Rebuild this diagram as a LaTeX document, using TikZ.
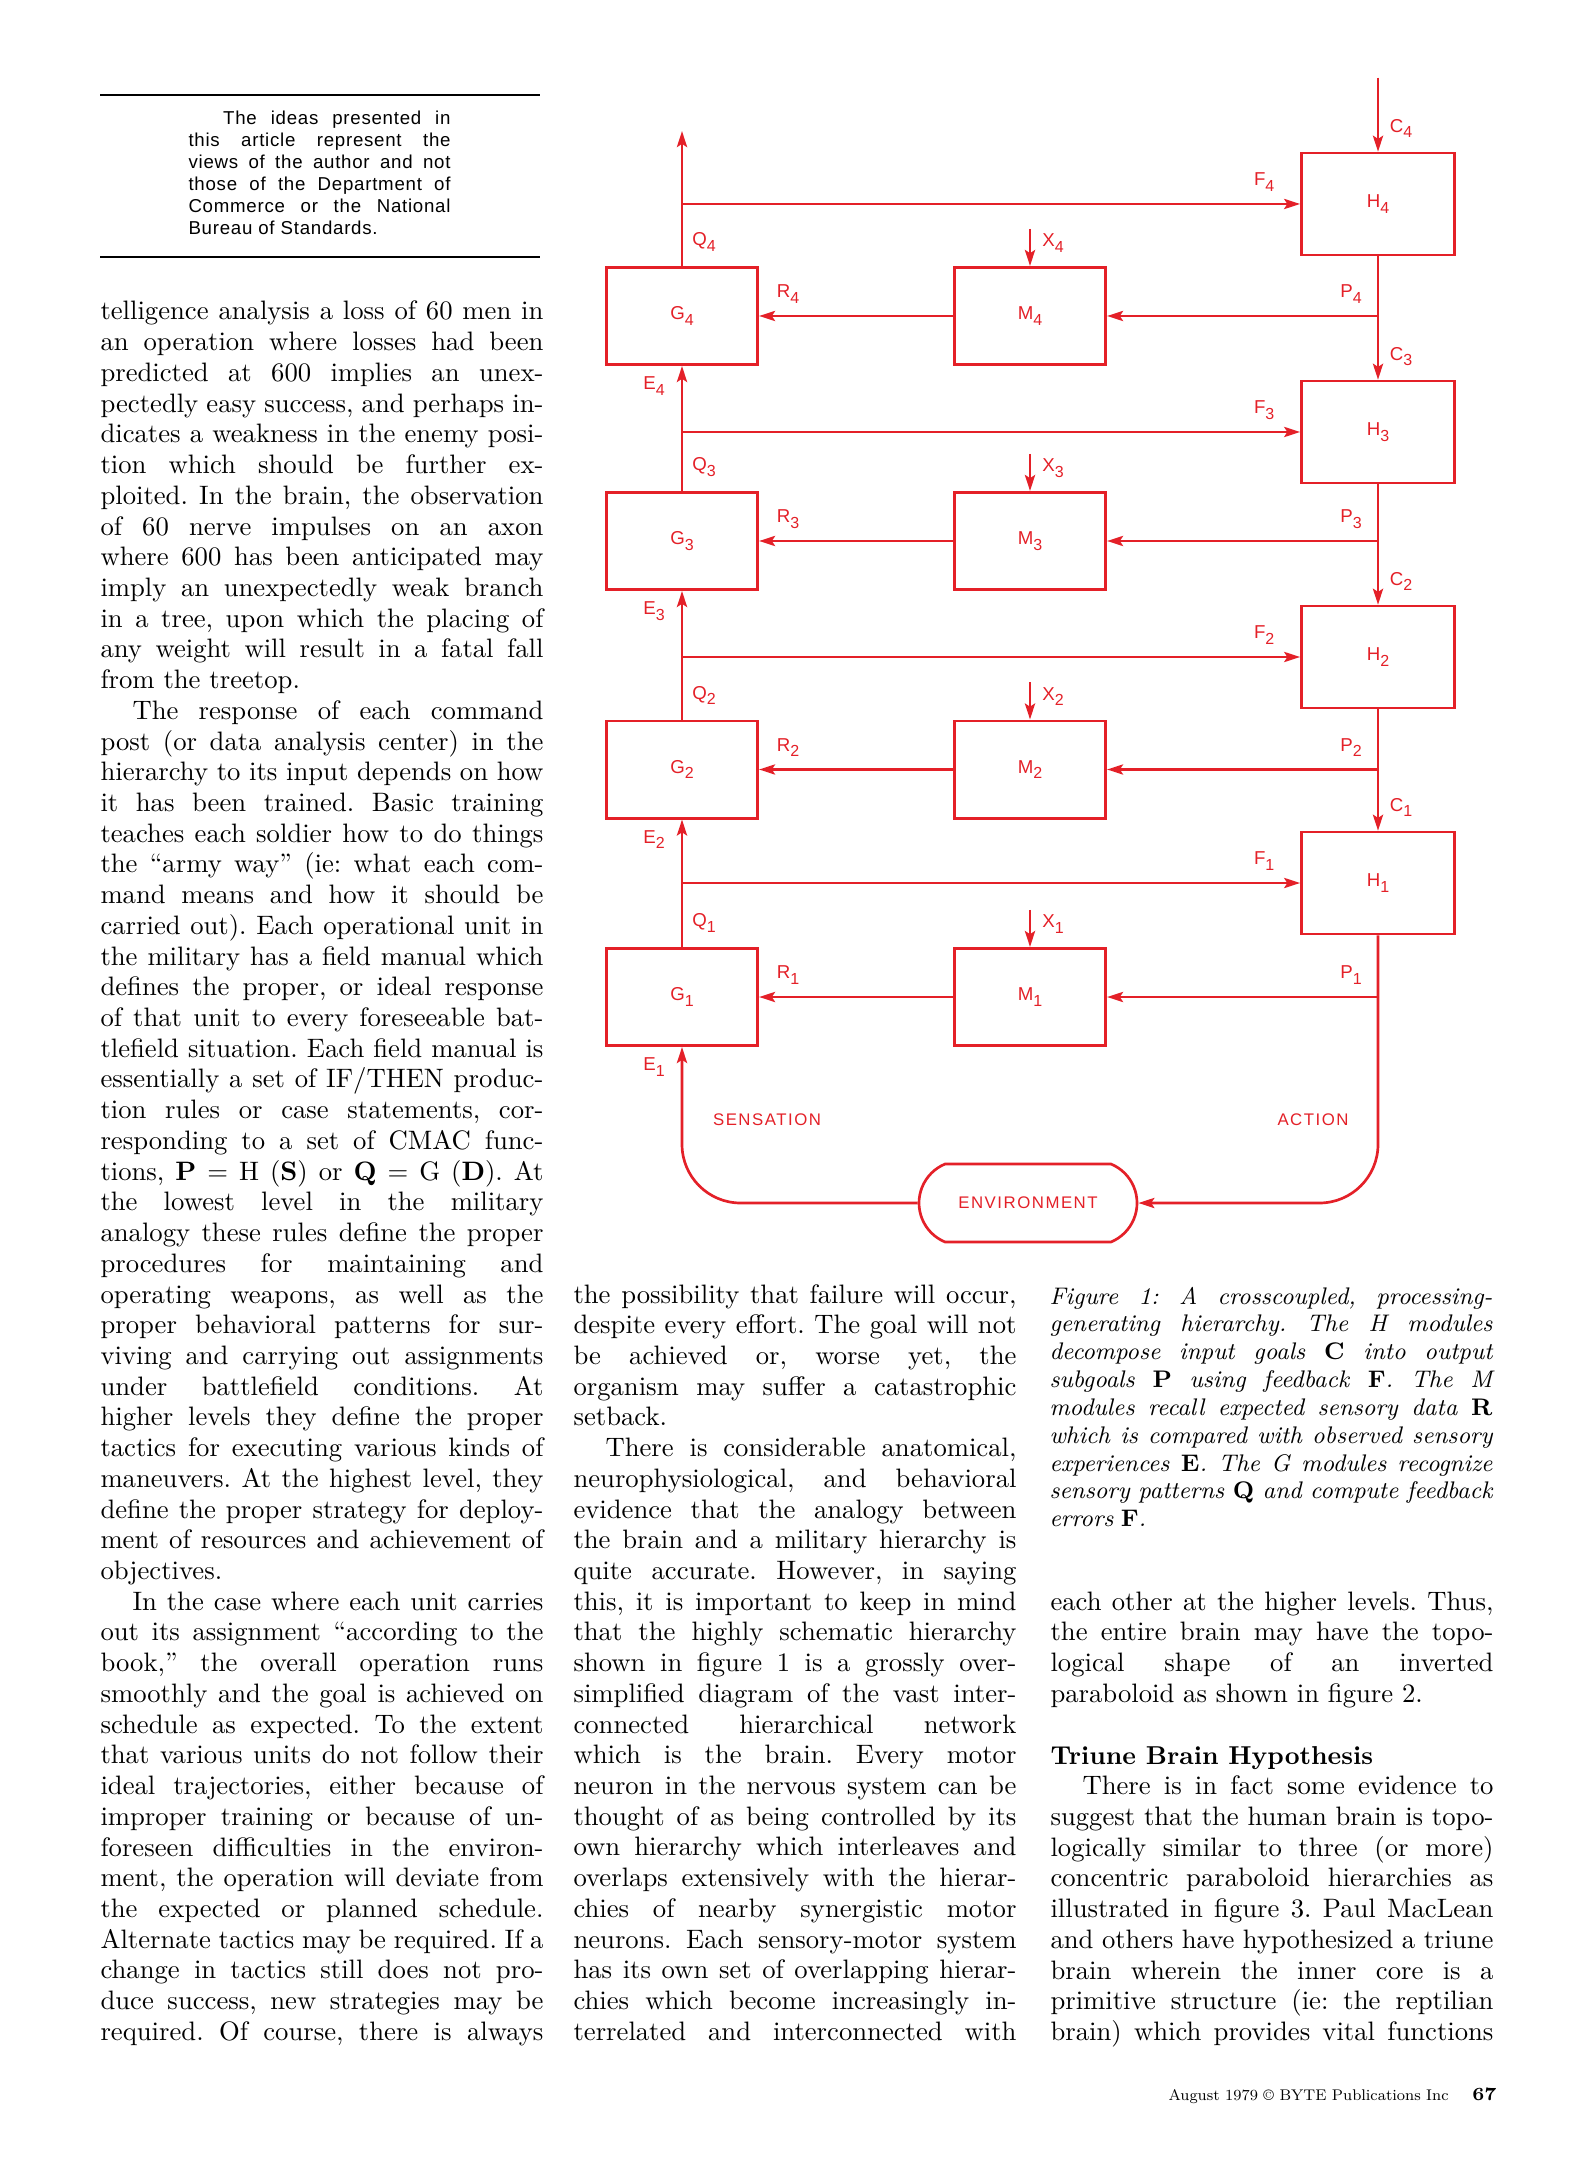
\documentclass[tikz,border=0pt]{standalone}
\usepackage{fontspec}
\usepackage{xcolor}
\usepackage{graphicx}
\usetikzlibrary{arrows.meta, positioning, shapes.misc}
\newfontfamily\diagfont{Liberation Sans}
\newfontfamily\spacedfont{Liberation Sans}[LetterSpace=9]
\newfontfamily\notefont{Liberation Sans}[LetterSpace=4]
\definecolor{diagred}{RGB}{228,32,40}
\newlength\colw
\setlength\colw{166.1pt}
\newcommand\jline[1]{\hbox to \colw{#1}}
\newcommand\iline[1]{\hbox to \colw{\hskip 12pt\relax #1}}
\newcommand\eline[1]{\hbox{#1}}
\newcommand\B[1]{\textup{\textbf{#1}}}
\newcommand\modlab[2]{#1\raisebox{-0.55ex}{\fontsize{6}{6}\selectfont #2}}
\newcommand\bodyfont{\fontsize{10}{11.52}\selectfont\frenchspacing\spaceskip=.333em plus .4em minus .17em\relax}
\tikzset{
    myarrow/.style={draw=diagred, line width=1pt, -{Stealth[length=6pt, width=3.8pt, inset=1.2pt]}},
    box/.style={draw=diagred, line width=1pt, rectangle, minimum width=56.8pt, minimum height=36.5pt, inner sep=0pt, text=diagred, font=\diagfont\fontsize{7}{8}\selectfont},
    hmod/.style={box, minimum width=57.4pt, minimum height=38.2pt},
    envbox/.style={draw=diagred, line width=1pt, rounded rectangle, rounded rectangle arc length=135, minimum width=81.75pt, minimum height=29.25pt, inner sep=0pt, text=diagred, font=\spacedfont\fontsize{6.3}{7}\selectfont},
    lab/.style={inner sep=0pt, text=diagred, font=\diagfont\fontsize{7}{8}\selectfont},
    flowlab/.style={inner sep=0pt, text=diagred, font=\spacedfont\fontsize{6.3}{7}\selectfont},
    txt/.style={inner sep=0pt, anchor=base west}
}
\begin{document}
\begin{tikzpicture}[x=0.375pt, y=-0.375pt]
    \fill[white] (0,0) rectangle (1581,2160);
    \useasboundingbox (0,0) rectangle (1581,2160);
    \foreach \k/\yh/\yg in {4/204/316, 3/432/541, 2/657/769.5, 1/883/997} {
        \node (H\k) [hmod] at (1378,\yh) {\modlab{H}{\k}};
        \node (G\k) [box] at (682,\yg) {\modlab{G}{\k}};
        \node (M\k) [box] at (1030,\yg) {\modlab{M}{\k}};
        \coordinate (p\k) at (H\k |- M\k);
        \coordinate (x\k) at ([yshift=13.9pt]M\k.north);
        \draw [myarrow] (G\k |- H\k) -- (H\k);
        \draw [myarrow] (M\k) -- (G\k);
        \draw [myarrow] (p\k) -- (M\k);
        \draw [myarrow] (x\k) -- (M\k);
        \node [lab] at ([shift={(23,-23)}]H\k.north) {\modlab{C}{\k}};
        \node [lab] at ([shift={(-36,-22)}]H\k.west) {\modlab{F}{\k}};
        \node [lab] at ([shift={(22,-24)}]G\k.north) {\modlab{Q}{\k}};
        \node [lab] at ([shift={(-28,20)}]G\k.south) {\modlab{E}{\k}};
        \node [lab] at ([shift={(29,-22)}]G\k.east) {\modlab{R}{\k}};
        \node [lab] at ([shift={(23,-23)}]M\k.north) {\modlab{X}{\k}};
        \node [lab] at ([shift={(-27,-22)}]p\k) {\modlab{P}{\k}};
    }
    \foreach \k/\j in {1/2, 2/3, 3/4} {
        \draw [myarrow] (G\k) -- (G\j);
        \draw [myarrow] (H\j) -- (H\k);
    }
    \coordinate (ctop) at ([yshift=27.75pt]H4.north);
    \coordinate (qtop) at ([yshift=50.6pt]G4.north);
    \draw [myarrow] (ctop) -- (H4);
    \draw [myarrow] (G4) -- (qtop);
    \node (env) [envbox] at (1028,1203) {ENVIRONMENT};
    \draw [myarrow, rounded corners=22pt] (H1) |- (env);
    \draw [myarrow, rounded corners=22pt] (env) -| (G1);
    \node (sens) [flowlab] at (767,1120) {SENSATION};
    \node (act) [flowlab] at (1313,1120) {ACTION};

    \draw [line width=0.75pt] (100,95) -- (540,95);
    \draw [line width=0.75pt] (100,257) -- (540,257);
    \node (note) [txt] at (188,125) {\notefont\fontsize{7}{8.25}\selectfont\setlength\colw{98.25pt}\vtop{
        \hbox to \colw{\hskip 13pt\relax The ideas presented in}
        \jline{this article represent the}
        \jline{views of the author and not}
        \jline{those of the Department of}
        \jline{Commerce or the National}
        \eline{Bureau of Standards.}}};

    \node (leftcol) [txt] at (100,320) {\bodyfont\vtop{
        \jline{telligence analysis a loss of 60 men in}
        \jline{an operation where losses had been}
        \jline{predicted at 600 implies an unex-}
        \jline{pectedly easy success, and perhaps in-}
        \jline{dicates a weakness in the enemy posi-}
        \jline{tion which should be further ex-}
        \jline{ploited. In the brain, the observation}
        \jline{of 60 nerve impulses on an axon}
        \jline{where 600 has been anticipated may}
        \jline{imply an unexpectedly weak branch}
        \jline{in a tree, upon which the placing of}
        \jline{any weight will result in a fatal fall}
        \eline{from the treetop.}
        \iline{The response of each command}
        \jline{post (or data analysis center) in the}
        \jline{hierarchy to its input depends on how}
        \jline{it has been trained. Basic training}
        \jline{teaches each soldier how to do things}
        \jline{the ``army way'' (ie: what each com-}
        \jline{mand means and how it should be}
        \jline{carried out). Each operational unit in}
        \jline{the military has a field manual which}
        \jline{defines the proper, or ideal response}
        \jline{of that unit to every foreseeable bat-}
        \jline{tlefield situation. Each field manual is}
        \jline{essentially a set of IF/THEN produc-}
        \jline{tion rules or case statements, cor-}
        \jline{responding to a set of CMAC func-}
        \jline{tions, \B{P} = H (\B{S}) or \B{Q} = G (\B{D}). At}
        \jline{the lowest level in the military}
        \jline{analogy these rules define the proper}
        \jline{procedures for maintaining and}
        \jline{operating weapons, as well as the}
        \jline{proper behavioral patterns for sur-}
        \jline{viving and carrying out assignments}
        \jline{under battlefield conditions. At}
        \jline{higher levels they define the proper}
        \jline{tactics for executing various kinds of}
        \jline{maneuvers. At the highest level, they}
        \jline{define the proper strategy for deploy-}
        \jline{ment of resources and achievement of}
        \eline{objectives.}
        \iline{In the case where each unit carries}
        \jline{out its assignment ``according to the}
        \jline{book,'' the overall operation runs}
        \jline{smoothly and the goal is achieved on}
        \jline{schedule as expected. To the extent}
        \jline{that various units do not follow their}
        \jline{ideal trajectories, either because of}
        \jline{improper training or because of un-}
        \jline{foreseen difficulties in the environ-}
        \jline{ment, the operation will deviate from}
        \jline{the expected or planned schedule.}
        \jline{Alternate tactics may be required. If a}
        \jline{change in tactics still does not pro-}
        \jline{duce success, new strategies may be}
        \jline{required. Of course, there is always}}};

    \node (midcol) [txt] at (573,1303) {\bodyfont\vtop{
        \jline{the possibility that failure will occur,}
        \jline{despite every effort. The goal will not}
        \jline{be achieved or, worse yet, the}
        \jline{organism may suffer a catastrophic}
        \eline{setback.}
        \iline{There is considerable anatomical,}
        \jline{neurophysiological, and behavioral}
        \jline{evidence that the analogy between}
        \jline{the brain and a military hierarchy is}
        \jline{quite accurate. However, in saying}
        \jline{this, it is important to keep in mind}
        \jline{that the highly schematic hierarchy}
        \jline{shown in figure 1 is a grossly over-}
        \jline{simplified diagram of the vast inter-}
        \jline{connected hierarchical network}
        \jline{which is the brain. Every motor}
        \jline{neuron in the nervous system can be}
        \jline{thought of as being controlled by its}
        \jline{own hierarchy which interleaves and}
        \jline{overlaps extensively with the hierar-}
        \jline{chies of nearby synergistic motor}
        \jline{neurons. Each sensory-motor system}
        \jline{has its own set of overlapping hierar-}
        \jline{chies which become increasingly in-}
        \jline{terrelated and interconnected with}}};

    \node (caption) [txt] at (1049,1304) {\fontsize{9}{10.44}\selectfont\itshape\frenchspacing\spaceskip=.3em plus .4em minus .15em\relax\vtop{
        \jline{Figure 1: A crosscoupled, processing-}
        \jline{generating hierarchy. The H modules}
        \jline{decompose input goals \B{C} into output}
        \jline{subgoals \B{P} using feedback \B{F}. The M}
        \jline{modules recall expected sensory data \B{R}}
        \jline{which is compared with observed sensory}
        \jline{experiences \B{E}. The G modules recognize}
        \jline{sensory patterns \B{Q} and compute feedback}
        \eline{errors \B{F}.}}};

    \node (rightcol) [txt] at (1050,1610) {\bodyfont\vtop{
        \jline{each other at the higher levels. Thus,}
        \jline{the entire brain may have the topo-}
        \jline{logical shape of an inverted}
        \eline{paraboloid as shown in figure 2.}}};
    \node (heading) [txt] at (1050,1764) {\fontsize{9.7}{12}\selectfont\bfseries Triune Brain Hypothesis};
    \node (rightcol2) [txt] at (1050,1794.7) {\bodyfont\vtop{
        \iline{There is in fact some evidence to}
        \jline{suggest that the human brain is topo-}
        \jline{logically similar to three (or more)}
        \jline{concentric paraboloid hierarchies as}
        \jline{illustrated in figure 3. Paul MacLean}
        \jline{and others have hypothesized a triune}
        \jline{brain wherein the inner core is a}
        \jline{primitive structure (ie: the reptilian}
        \jline{brain) which provides vital functions}}};

    \node (foot) [txt] at (1168,2100) {\resizebox{105pt}{!}{\fontsize{8}{9}\selectfont August 1979 \textcopyright{} BYTE Publications Inc}};
    \node (pageno) [inner sep=0pt, anchor=base east] at (1497,2100) {\fontsize{7}{8}\selectfont\bfseries 67};
\end{tikzpicture}
\end{document}
